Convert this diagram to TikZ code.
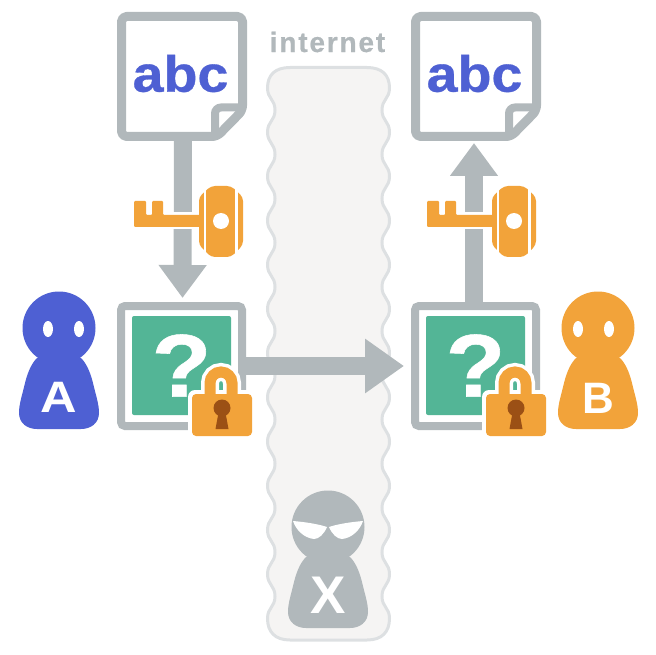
\documentclass[tikz,border=0pt]{standalone}
\usepackage{fontspec}
\usepackage{graphicx}
\setmainfont{Liberation Sans}
\usetikzlibrary{arrows.meta}
\definecolor{blueA}{HTML}{4E60D3}
\definecolor{orangeB}{HTML}{F2A33A}
\definecolor{greenC}{HTML}{53B596}
\definecolor{grayD}{HTML}{B1B8BB}
\definecolor{brownK}{HTML}{9B5015}
\definecolor{cloudF}{HTML}{F5F4F3}
\definecolor{cloudL}{HTML}{DDE0E2}
\newcommand{\bigfont}[2]{\fontsize{#1}{#1}\selectfont\bfseries\addfontfeatures{LetterSpace=#2,FakeBold=0.6}}
\tikzset{
  framebox/.style={draw=grayD,fill=white,line width=8pt,rounded corners=4pt,minimum width=121pt,minimum height=120pt,outer sep=0pt,inner sep=0pt},
  sealedbox/.style={fill=greenC,rounded corners=2pt,minimum size=99pt,outer sep=0pt,inner sep=0pt,text=white,font={\bigfont{89}{0}}},
  flowarrow/.style={draw=grayD,line width=18pt,-{Triangle[length=33pt,width=46pt]}},
  widearrow/.style={draw=grayD,line width=18pt,-{Triangle[length=39pt,width=52pt]}},
  lettertext/.style={inner sep=0pt,text=white},
  pics/document/.style={code={
    \node[minimum width=121pt,minimum height=120pt,outer sep=0pt,inner sep=0pt] (-box) at (0,0) {};
    \draw[grayD,fill=white,line width=9pt,rounded corners=5pt,line join=round]
      (-60.5,-60) -- (60.5,-60) -- (60.5,34) -- (35,60) -- (-60.5,60) -- cycle;
    \draw[grayD,line width=8pt,rounded corners=6pt] (60.5,31) -- (33,31) -- (33,60);
  }},
  pics/key/.style={code={
    \path[draw=white,line width=5pt,line join=miter] (-87,6) -- (-87,-6) -- (-21,-6) -- (-21,6) -- cycle;
    \fill[orangeB,rounded corners=1pt] (-87,-20) -- (-75,-20) -- (-75,-6) -- (-69,-6) -- (-69,-20) -- (-58,-20) -- (-58,-6) -- (-21,-6) -- (-21,6) -- (-87,6) -- cycle;
    \fill[orangeB,rounded corners=4pt] (-22,-24) -- (-10,-35) -- (10,-35) -- (22,-24) -- (22,24) -- (10,36) -- (-10,36) -- (-22,24) -- cycle;
    \draw[white,line width=2.5pt] (-16,-36) -- (-16,37) (15.5,-36) -- (15.5,37);
    \fill[white] (0,0) circle[radius=8];
  }},
  pics/lock/.style={code={
    \draw[white,line width=18pt] (-12,32) -- (-12,19) arc[start angle=180,end angle=360,radius=11] -- (10,32);
    \fill[white,rounded corners=7pt] (-34,26) rectangle (34,76);
    \draw[orangeB,line width=11pt] (-12,32) -- (-12,19) arc[start angle=180,end angle=360,radius=11] -- (10,32);
    \fill[orangeB,rounded corners=4pt] (-30,30) rectangle (30,72);
    \fill[brownK] (0,44) circle[radius=8.5];
    \fill[brownK] (-3,46) -- (3,46) -- (6.5,65) -- (-6.5,65) -- cycle;
  }},
  pics/person/.style={code={
    \fill[#1] (0,0) circle[radius=36.5];
    \fill[#1] (-22,30) .. controls (-27,35) and (-31,43) .. (-34,55) .. controls (-37,68) and (-40,76) .. (-40,85)
      .. controls (-40,95) and (-32,101) .. (-22,101) -- (22,101)
      .. controls (32,101) and (40,95) .. (40,85) .. controls (40,76) and (37,68) .. (34,55)
      .. controls (31,43) and (27,35) .. (22,30) -- cycle;
  }},
  pics/roundeyes/.style={code={
    \fill[white] (-15.5,0) ellipse[x radius=5,y radius=8];
    \fill[white] (15.5,0) ellipse[x radius=5,y radius=8];
  }},
}
\begin{document}
\begin{tikzpicture}[x=1pt,y=-1pt]
\useasboundingbox (0,0) rectangle (656,655);
% internet cloud
\draw[cloudL,fill=cloudF,line width=3pt]
  (267.5,88) .. controls (267.5,75) and (275,67.5) .. (290,67.5) -- (367,67.5)
  .. controls (382,67.5) and (389.5,75) .. (389.5,88)
  \foreach \k [evaluate=\k as \ya using 88+44.2*\k, evaluate=\k as \yb using 88+44.2*\k+22.1, evaluate=\k as \yc using 88+44.2*\k+44.2] in {0,1,...,11} {
    .. controls (389.5,{\ya+11}) and (382,{\yb-11}) .. (382,\yb)
    .. controls (382,{\yb+11}) and (389.5,{\yc-11}) .. (389.5,\yc)
  }
  .. controls (389.5,632) and (382,640) .. (367,640) -- (290,640)
  .. controls (275,640) and (267.5,632) .. (267.5,618.4)
  \foreach \k [evaluate=\k as \ya using 88+44.2*\k, evaluate=\k as \yb using 88+44.2*\k+22.1, evaluate=\k as \yc using 88+44.2*\k+44.2] in {11,10,...,0} {
    .. controls (267.5,{\yc-11}) and (275,{\yb+11}) .. (275,\yb)
    .. controls (275,{\yb-11}) and (267.5,{\ya+11}) .. (267.5,\ya)
  }
  -- cycle;
\node[inner sep=0pt,text=grayD,font={\bigfont{28}{6.5}}] (inet) at (327.5,42) {internet};
% documents
\pic (doca) at (182,76.5) {document};
\pic (docb) at (476,76.5) {document};
\node[inner sep=0pt,text=blueA,font={\bigfont{51}{0}}] (abca) at (180.5,73.5) {\scalebox{1.09}[1]{abc}};
\node[inner sep=0pt,text=blueA,font={\bigfont{51}{0}}] (abcb) at (474.5,73.5) {\scalebox{1.09}[1]{abc}};
% sealed frames
\node[framebox] (framea) at (181.5,366) {};
\node[framebox] (frameb) at (475.5,366) {};
% arrows
\draw[flowarrow,shorten >=8pt] ([xshift=1pt]doca-box.south) -- ([xshift=1pt]framea.north);
\draw[flowarrow,shorten >=6.5pt] ([xshift=-1.5pt]frameb.north) -- ([xshift=-2pt]docb-box.south);
\draw[widearrow,shorten >=11pt] (framea.east) -- (frameb.west);
% contents
\node[sealedbox] (qa) at (181.5,365.5) {\scalebox{1.1}[1]{?}};
\node[sealedbox] (qb) at (475.5,365.5) {\scalebox{1.1}[1]{?}};
% keys
\pic at (221,221) {key};
\pic at (514,221) {key};
% locks
\pic at (222,364) {lock};
\pic at (516,364) {lock};
% people
\pic at (59,328) {person=blueA};
\pic at (63.5,329) {roundeyes};
\node[lettertext,font={\fontsize{44}{44}\selectfont\bfseries}] (la) at (59,397) {\scalebox{1.15}[1]{A}};
\pic at (598,328) {person=orangeB};
\pic at (593.5,329) {roundeyes};
\node[lettertext,font={\fontsize{44}{44}\selectfont\bfseries}] (lb) at (598,398) {B};
\pic at (328,527) {person=grayD};
\fill[white] (293,521) .. controls (305,522) and (318,524) .. (327,527) .. controls (324,534) and (319,539) .. (314,539) .. controls (304,538) and (296,530) .. (293,521) -- cycle;
\fill[white] (363,521) .. controls (351,522) and (338,524) .. (329,527) .. controls (332,534) and (337,539) .. (342,539) .. controls (352,538) and (360,530) .. (363,521) -- cycle;
\node[lettertext,font={\fontsize{53}{53}\selectfont\bfseries}] (lx) at (328,595) {X};
\end{tikzpicture}
\end{document}
